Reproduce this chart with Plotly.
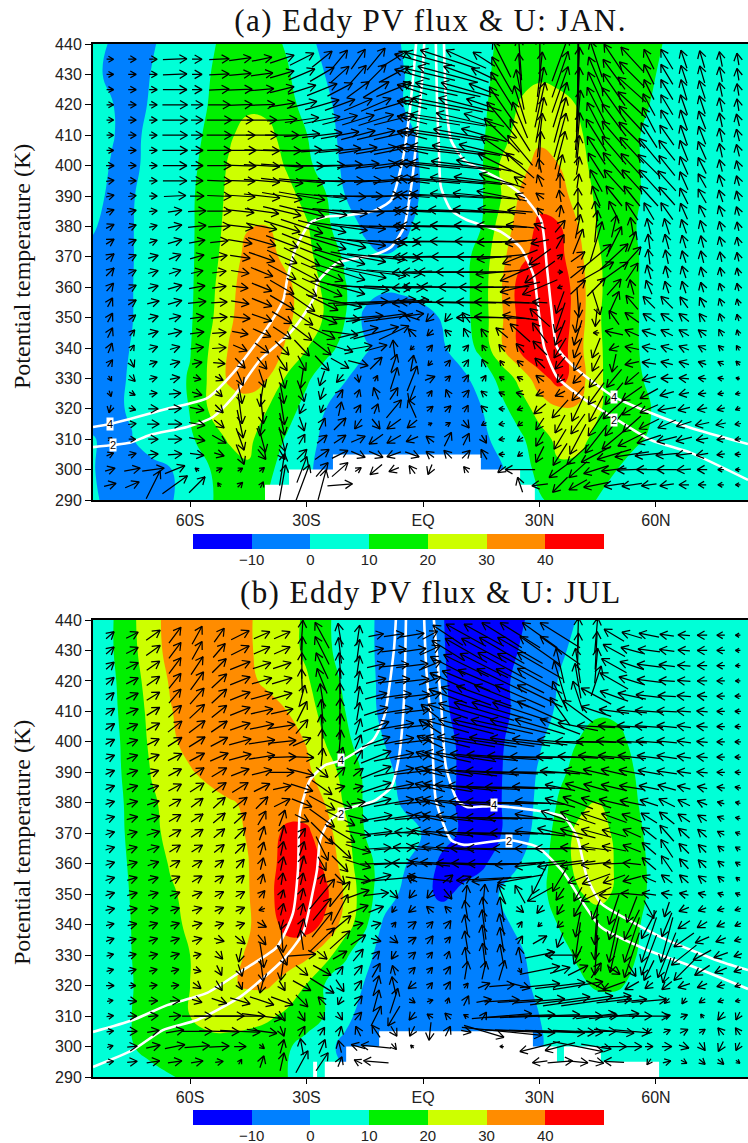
import plotly.graph_objects as go

LAT_Z = [-85,-80,-75,-70,-65,-60,-55,-50,-45,-40,-35,-30,-25,-20,-15,-10,-5,0,5,10,15,20,25,30,35,40,45,50,55,60,65,70,75,80,85]
THETA_Z = [440,430,420,410,400,390,380,370,360,350,340,330,320,310,300,290]

FLUX_A = [
[3,-1,-3,-1,3,6,9,12,14,13,9,3,-3,-5,-5,-3,0.5,3,5,7,9,10.5,12,14,15,15,14,13,12,11,8,6,5,4,4],
[1.5,-1.5,-3,0.2,3.5,6.5,9.8,13,16,15,11,5,-0.3,-4,-5,-3,-0.2,3,5,7,9,11,16,18.5,17,15,14,13,12,10,8,6,5,4,4],
[2,0.2,-2.5,0.7,4,7,10.3,14,18,18,13,7,1.5,-3,-4,-2.5,0,3,5,7,8.5,13,21,24,23,19.5,16.5,14.5,12,9,7,5,4,4,4],
[2,0.2,-1.5,1.5,5,7.5,11.5,18.5,24,22,17,10.3,3,-2.5,-4,-3.5,-1.5,1,4,6,8.5,16,24,28,27,21,17,14,10.5,8,6,5,4,4,4],
[1.5,-0.3,-1.5,2,5.5,8,13,21,25,25,19,12.5,5,-2,-4,-4,-2,0.5,4,6,9,21,27,33,30,22.5,17.5,14,10.5,8,6,5,4,4,4],
[1.5,-1,-0.5,2.5,6,8.5,14.5,22,27,28,23,17,10.5,0,-5,-5,-2,0.5,4,6.5,9,19.5,31,37,34,26,18,14.5,10.5,8,6,5,4,4,4],
[0.4,-1.5,-0.3,2.5,5.5,8.5,15,23,29.5,30,26,21,12,4.5,-1.5,-3,-1,1.5,4,7,10,24,34,42,41,30,19.5,15,10,8,6,5,4,4,4],
[-1,-1.5,-0.3,2.5,5.5,8.5,15.5,25,33,33,27.5,22.5,15.5,8.5,2.5,0.3,1,2,4,6.5,14,27,37.5,44,43,33,21,15.5,10.3,8,6,5,4,4,4],
[-1.5,-1.5,-0.2,2.5,6,8.5,17,27,35,38,32,25,18,10.5,4,1,1.5,2.5,4,6.5,15,29,44,50,47,35,21.5,15.5,10.3,8,6,5,4,4,4],
[-1.5,-1.5,-0.2,2.8,6.2,8.8,18,28,36,38,32,25,19,10,-2,-4,-4,-2,0.5,6,15,28,43,50,47,35,21,15.5,10.3,8,6,5,4,4,4],
[-2,-1.5,0.2,3.3,6.5,9.5,20.5,30.5,37,38,28,20.5,13,7,1,-3,-4,-3,-1,4,13,28,42,50,46,33,21.5,15.5,10.3,8,6,5,4,4,4],
[-2,-1.2,0.5,3.8,7,10.7,21.5,31.5,35,30,18.5,11.5,5,0.5,-3,-5,-6,-6,-4.5,-2,3.5,13,23,36,44,35,21.5,16,11,8,6,5,4,4,4],
[-2,-1.2,0.7,3.8,7,10.3,21,25,25,20,13.5,7,0,-4,-6,-7,-7,-6,-5,-3.5,-0.3,7,15,24,29,29,21,16.5,13,9,6,5,4,4,4],
[0.3,-1.5,-0.3,3,6,8.5,15,21,22,15,9,3,-2,-5,-6,-7,-7,-6,-5,-4,-2,2.5,8,16,22.5,22,18,14,11,8.5,6,5,4,4,4],
[0.2,-1.5,-3,-2,-0.3,4,9.7,15,19,12,6,1,-2,-5,-6,-6,-6,-6,-5,-4,-3,-1,5,13,18.5,18,14,10,7,6,5,5,4,4,4],
[1,-2,-3,-2.5,-0.7,4,9,14,15,9.5,5,1,-2,-4,-5,-5,-5,-5,-5,-4,-3,-1,3,9,13,12,9.8,7,6,5,5,5,4,4,4],
]

FLUX_B = [
[5,9.5,18,27,33,35,36,35,31,26.5,23,18.5,11.5,6,1.5,-1.5,-4.5,-8,-9.7,-13,-14,-13,-11,-7,-3,0.5,2,3,3,3,3,3,3,3,3],
[5,9.5,17.5,26,33,36,36,35,31,27,23,18.5,12,6,1.5,-1.5,-4.5,-7,-9.3,-14,-15,-13.5,-9.6,-5,-1,1.5,2.5,3,3,3,3,3,3,3,3],
[5,8.5,16,24,31,36,37,36,32,28,25,21,15,8,2,-1.5,-4,-6.5,-9,-13,-14,-12,-8,-4,0.3,2,3,3,3,3,3,3,3,3,3],
[5,8,15,22.5,29.5,34,37,38,37,34,30,23.5,17,10,2.5,-1.5,-4,-6.5,-8.8,-12,-14,-12,-8,-2.5,1,4,8.5,8,3,3,3,3,3,3,3],
[5,7,14.5,21.5,28,33.5,37,38.5,38.5,37,34,29.5,19.5,12,6,0,-3,-5.5,-8,-11,-13,-11,-6,-1,4.5,10.3,15,13,7,3,3,3,3,3,3],
[4.5,7,13.5,20.3,25,29,33,36,37,38,36,32,25,16.5,8.5,2,-2,-5,-7.5,-11,-12,-10.5,-5,1,8,13,16.5,14,9.5,4,3,3,3,3,3],
[4.5,6.5,12.5,19,22,24,26,29,31.5,34,36,35,29.5,18.5,9,3.5,-1,-4.5,-8,-11,-12,-10.3,-4.5,2,11,17,20.5,16,10.5,5,3,3,3,3,3],
[4.5,6.5,12,17.5,22.5,24,26,28,30.5,36.5,42,42,34,23,10,6,3,-0.3,-7,-11,-12,-10.3,-4,3.5,14,22.5,24,18,12,6,3,3,3,3,3],
[4,6,11.3,16,20.7,23,25.5,27.5,29.8,36.5,44,46,38,25,13,6.5,1,-5,-12,-14,-12,-5,0,6.5,14,23,24.5,19,13,7,3,3,3,3,3],
[4,6,10.6,15,19,22,24.5,27,29.5,37,46,46,42,28.5,14,5,-2,-7.5,-12,-8,-4,0.7,4,8,13,19,23,18.5,13,7,3,3,3,3,3],
[4,6,10.2,13.7,17,22,25,27.5,29,36,43,44,38,25.5,12,-2,-4,-4,-4,-3.5,-3,-1.5,1.5,6,10.3,13,14.5,14,11,6,3,3,3,3,3],
[4,6,10,13.3,16.7,20,23.5,27,31,35,35,32,24,11.5,3,-4,-5,-5,-5,-4,-4,-3,-1,3,7.5,11,13,13,10,6,3,3,3,3,3],
[4,6,9.7,13,16.5,20,25,29,31,31,26,19.5,8.5,4,-0.5,-5,-6,-6,-6,-5,-4,-3,-1.2,1,5,8.5,11,11,8,5,3,3,3,3,3],
[3,6,10,14,17,20,23,23.5,23,21.5,18,14,9.5,2,-3,-5,-6,-6,-6,-5,-4,-3,-2,0,3,4,5,5,4,4,3,3,3,3,3],
[2.5,5.5,9.5,13,15,16,17,17,16,14,11,7,2,-2,-4,-5,-5,-5,-5,-5,-4,-3,-2,-0.5,2,3,4,4,4,4,3,3,3,3,3],
[3,4,5,7,9.5,11.5,13,14,14,13,10.2,5,3,1,0,0,0,0,0,0,0,0,0,1,2,3,3,3,3,3,3,3,3,3,3],
]

LAT_ARROW = [-80.6,-74.9,-69.5,-63.9,-58.2,-52.5,-47.1,-41.5,-36.3,-31.2,-26,-21.4,-16.7,-12.1,-7.5,-2.8,1.8,6.4,11.1,15.7,20.3,25,30.1,35.3,39.9,44.6,49.2,53.8,58.2,62.8,67.2,71.9,76.7,81.1]
THETA_ARROW = [435,430,425,420,415,410,405,400,395,390,385,380,375,370,365,360,355,350,345,340,335,330,325,320,315,310,305,300,295]

U_A = [
[7,8,8,24,10,20,22,20,24,24,20,15,14,18,26,-35,-50,-55,-40,-22,-18,-3,0,16,0,-12,-20,-22,-10,-12,-6,-5,-3,-2],
[7,8,8,24,10,20,22,22,24,26,24,18,16,20,30,-35,-50,-60,-45,-25,-20,-3,5,16,2,-15,-22,-25,-10,-12,-6,-5,-3,-2],
[7,8,8,24,10,20,24,24,24,28,30,25,22,26,35,-30,-55,-65,-50,-30,-22,-8,8,16,3,-16,-22,-28,-10,-12,-6,-6,-3,-2],
[7,8,8,25,12,22,24,26,26,30,34,30,28,30,40,-30,-60,-70,-55,-35,-25,-12,10,14,3,-18,-24,-28,-12,-12,-7,-6,-3,-2],
[7,8,8,25,12,25,26,30,30,34,36,35,32,35,40,-30,-60,-75,-60,-40,-30,-15,8,12,5,-18,-24,-26,-13,-12,-7,-7,-3,-3],
[7,8,8,25,12,25,30,32,34,36,40,38,34,38,40,-30,-60,-75,-65,-45,-35,-20,5,12,4,-20,-24,-26,-16,-14,-7,-7,-3,-3],
[7,8,8,25,12,24,32,35,38,40,42,42,38,40,40,-32,-60,-75,-68,-50,-42,-25,2,10,3,-18,-24,-24,-20,-16,-8,-8,-3,-3],
[8,8,8,24,12,24,32,36,42,44,45,45,42,40,38,-35,-60,-75,-70,-55,-48,-28,-3,5,3,-16,-22,-22,-22,-16,-8,-8,-3,-3],
[8,8,8,24,12,24,30,36,42,46,46,48,46,44,42,-35,-60,-75,-72,-60,-45,-12,-5,0,2,-12,-20,-20,-20,-18,-8,-8,-4,-3],
[8,8,8,22,14,24,30,36,40,46,50,52,50,48,45,-35,-60,-75,-72,-62,-50,-10,-8,-2,0,-8,-16,-16,-18,-16,-8,-8,-4,-3],
[8,8,8,14,18,24,28,34,38,45,50,55,52,52,48,-38,-60,-75,-75,-62,-48,-25,-6,2,0,-3,-10,-12,-10,-12,-7,-6,-4,-3],
[8,8,8,14,18,22,26,30,36,42,48,55,55,55,50,-38,-60,-70,-72,-60,-50,-28,-12,10,5,3,5,-3,-4,-5,-5,-4,-3,-2],
[8,8,8,14,16,18,24,28,32,40,48,52,55,58,52,-38,-60,-68,-72,-58,-50,-30,-18,8,10,12,15,8,-2,-4,-4,-3,-3,-2],
[8,8,10,12,14,16,20,26,30,36,44,50,55,58,52,-38,-60,-65,-70,-55,-50,-35,-22,5,14,30,28,18,-2,-3,-4,-3,-2,-2],
[8,8,10,12,12,14,18,22,28,34,42,50,56,60,55,-40,-55,-60,-60,-55,-52,-40,-30,5,15,35,28,12,-4,-3,-4,-3,-2,-2],
[7,8,10,14,16,14,16,20,24,30,40,50,62,70,60,-40,-55,-55,-55,-50,-55,-40,-35,-5,15,18,14,-4,-6,-4,-4,-3,-3,-2],
[5,8,12,14,18,16,18,20,24,26,32,44,60,80,70,-40,-60,-60,-60,-55,-55,-35,-15,-8,2,8,10,-12,-12,-12,-8,-5,-3,-2],
[5,7,10,12,14,16,20,20,20,22,30,40,50,60,60,-15,-8,-6,-8,-55,-55,-35,-20,-10,-5,-2,-10,-14,-12,-12,-10,-6,-3,-2],
[5,5,10,14,14,14,16,18,18,20,26,36,40,45,30,-8,-6,-6,-5,-6,-12,-20,-15,-10,-8,-6,-18,-14,-14,-12,-10,-8,-4,-2],
[4,4,9,10,13,14,14,14,14,15,18,26,28,22,-2,-4,5,5,5,-4,-6,-8,-14,-12,-8,-8,-10,-14,-14,-12,-10,-8,-5,-3],
[5,4,8,10,10,12,10,10,10,8,14,18,20,12,6,3,-4,5,5,-4,-4,-6,-10,-10,-8,-8,-4,-14,-14,-12,-10,-8,-6,-4],
[3,6,8,10,8,8,6,6,6,-3,-5,-7,2,3,7,10,10,5,5,4,-5,-6,-8,-6,-10,-14,-15,-14,-14,-12,-10,-8,-6,-4],
[2,6,8,12,10,6,4,-4,4,5,-4,6,3,-5,8,-6,4,-4,6,-6,-6,-8,-8,-10,-12,-16,-18,-20,-18,-14,-10,-8,-6,-5],
[-2,7,10,13,14,8,4,3,5,-5,-3,3,5,4,15,-8,6,6,4,-6,-6,-6,-12,-16,-12,-14,-22,-20,-18,-18,-12,-10,-8,-5],
[3,8,12,14,16,10,6,-4,5,5,6,12,-7,8,-14,-10,4,5,6,-5,-6,-5,-8,-10,-14,-16,-18,-18,-20,-18,-15,-14,-10,-6],
[4,7,10,14,16,14,8,7,6,6,10,12,14,-14,-14,-12,-8,7,6,5,-6,-6,-8,-12,-16,-22,-24,-28,-24,-20,-16,-12,-8,-6],
[7,8,10,14,14,10,8,8,6,10,14,16,14,14,-14,14,-8,-8,8,-6,-6,-5,-8,-14,-22,-30,-34,-34,-28,-22,-16,-12,-8,-6],
[10,16,22,20,-4,6,5,5,5,10,12,16,6,-12,-10,-6,-4,0,-5,0,-8,-30,0,-22,-18,-25,-25,-30,-25,-20,-14,-10,-6,-5],
[12,14,14,25,16,-3,5,3,7,15,8,25,0,0,0,0,0,0,0,0,0,-5,-16,-15,-18,-25,-20,-20,-15,-14,-10,-8,-6,-5],
]
V_A = [
[0,0,0,1,0,1,3,4,8,12,16,18,20,22,16,10,14,18,18,14,36,42,44,44,80,36,30,24,20,20,18,17,15,12],
[0,0,0,1,0,1,2,3,7,11,14,16,18,20,16,10,12,16,16,12,35,42,45,46,90,35,30,25,20,20,18,17,15,12],
[0,0,0,0,0,1,1,2,6,9,12,13,16,16,14,10,12,14,14,12,35,40,45,46,85,35,32,25,20,20,20,18,14,12],
[0,0,0,0,0,0,1,1,4,7,10,11,12,13,12,8,11,14,14,12,36,38,45,45,75,35,34,26,22,20,20,18,14,12],
[0,0,0,0,0,0,0,0,2,5,7,9,10,11,10,8,10,12,14,13,36,36,45,45,60,35,32,28,25,20,20,18,14,12],
[0,0,0,0,0,0,0,0,0,3,5,7,9,9,9,8,9,11,12,13,34,32,44,44,45,32,28,26,25,20,20,18,14,12],
[0,0,0,0,0,0,0,-1,-1,1,3,4,6,7,8,7,7,9,10,12,28,30,38,38,30,28,28,26,24,20,20,18,14,12],
[0,0,0,0,0,0,-1,-2,-3,-1,1,2,4,5,6,6,6,7,9,11,24,25,14,22,18,25,26,24,22,20,18,16,12,10],
[1,0,0,0,0,-1,-1,-3,-5,-4,-2,0,1,3,4,5,5,6,7,8,14,8,12,15,14,22,22,22,22,20,18,14,12,10],
[2,1,0,1,0,-1,-2,-4,-7,-8,-5,-2,0,1,3,3,3,4,5,6,10,4,6,12,16,20,20,20,20,18,16,14,12,10],
[3,2,1,2,1,0,-3,-5,-9,-11,-8,-5,-2,0,1,2,2,2,3,4,5,2,6,12,18,20,20,18,17,17,16,12,11,9],
[4,3,2,3,2,1,-3,-6,-11,-14,-12,-8,-5,-2,0,1,1,1,2,2,2,3,5,12,24,32,22,18,16,16,14,12,10,9],
[5,4,3,4,3,2,-4,-8,-12,-16,-15,-12,-8,-4,-2,0,0,1,1,1,-2,-4,-4,14,25,40,30,20,15,15,13,12,10,9],
[6,4,3,5,4,3,-3,-9,-13,-18,-18,-15,-10,-6,-3,-1,0,0,0,0,-5,-14,-16,5,10,25,26,20,15,14,12,12,10,9],
[8,4,3,4,3,2,-3,-9,-15,-18,-18,-16,-12,-8,-4,-2,0,0,0,-1,-5,-18,-22,0,12,20,20,18,14,12,12,10,9,8],
[8,4,3,4,3,2,-2,-8,-14,-18,-18,-14,-6,-2,-2,-2,1,1,0,0,-1,-10,-15,-2,14,18,16,15,14,12,12,10,8,8],
[9,5,3,4,2,1,-3,-8,-14,-18,-16,-10,2,6,5,-2,1,1,1,1,1,2,1,-22,-30,-25,22,14,12,12,11,10,8,7],
[9,5,3,3,2,1,-2,-7,-12,-15,-12,-4,4,8,8,5,-8,-8,10,0,2,5,18,-30,-30,-18,14,10,8,8,8,8,8,7],
[10,6,3,3,2,1,-3,-8,-12,-15,-12,-5,10,12,14,8,-6,6,9,8,10,18,20,-25,-25,0,4,6,5,6,6,6,7,6],
[10,6,3,3,2,1,-6,-10,-14,-16,-14,-8,5,6,16,-4,6,6,6,6,7,9,14,-20,-20,-20,-4,3,3,4,4,4,5,5],
[7,-8,3,3,2,-1,-10,-12,-15,-15,-15,-10,-5,12,18,16,-5,6,7,8,5,5,10,-12,-15,-16,-18,-3,2,3,3,3,3,4],
[-5,-6,2,2,-2,-4,-14,-18,-20,-20,-15,-8,-8,6,22,25,4,5,7,6,3,3,6,-8,-10,-18,-18,-12,-4,0,1,1,1,1],
[-6,-3,1,1,-3,-6,-20,-26,-20,-16,-12,8,8,12,12,-16,6,8,7,5,3,2,-4,-5,-14,-22,-22,-14,-10,-4,-2,-1,-1,-1],
[-8,-2,0,1,-3,-8,-30,-30,-32,-10,-8,14,8,10,18,18,5,6,7,6,0,-2,-10,-18,-25,-26,-20,-12,-8,-3,-3,-2,-2,-2],
[-4,1,0,0,-3,-8,-28,-24,-22,-14,12,12,-10,-10,-10,-8,2,3,-8,-3,-1,-4,-12,-18,-20,-24,-24,-16,-10,-8,-5,-3,-2,-1],
[3,0,0,0,-3,-8,-22,-26,-24,10,8,8,6,-10,-8,-5,6,14,12,-8,-1,-4,-14,-20,-30,-28,-20,-14,-8,-5,-4,-2,-1,-1],
[3,2,1,1,-2,-3,-20,-10,-10,10,10,8,-6,-6,-5,-5,6,8,8,10,0,-4,-16,-22,-20,-16,-10,-5,-3,-2,-2,-2,-1,0],
[3,3,3,8,3,3,3,4,32,26,14,14,4,-10,-4,8,-10,0,6,0,-6,0,0,-16,-16,-8,-3,-1,0,0,-1,0,0,0],
[3,6,28,18,16,4,5,6,40,40,30,2,0,0,0,0,0,0,0,0,0,15,-2,-15,-10,-5,-3,-3,-2,-2,0,0,0,0],
]

U_B = [
[8,12,14,12,10,10,18,16,16,2,-14,-4,3,15,20,24,15,-30,-40,-40,-40,-40,-35,-40,1,3,-20,-20,-20,-14,-12,-10,-8,-5],
[8,12,14,12,10,12,18,16,16,1,-14,-3,3,15,25,28,20,-32,-42,-45,-45,-45,-40,-40,1,2,-22,-22,-22,-15,-12,-10,-8,-5],
[8,12,13,12,12,14,20,18,18,0,-12,-2,3,18,30,32,22,-35,-45,-48,-48,-45,-45,-8,-5,3,-25,-24,-24,-16,-13,-10,-8,-5],
[8,12,13,12,13,15,20,20,20,-1,-10,-1,3,20,32,34,22,-36,-48,-52,-50,-48,-45,-12,-6,10,-28,-26,-24,-16,-13,-10,-8,-5],
[8,12,13,12,14,15,20,22,20,6,-4,0,3,22,35,35,22,-38,-50,-55,-55,-50,-45,-15,-10,-30,-28,-28,-26,-18,-14,-10,-8,-6],
[9,12,13,13,15,15,20,22,22,10,-2,1,3,24,38,35,-18,-40,-55,-60,-60,-55,-45,-20,-30,-30,-30,-30,-28,-20,-14,-11,-8,-6],
[9,11,13,14,16,16,20,24,26,12,-2,2,5,26,40,35,-22,-42,-55,-62,-62,-60,-50,-40,-40,-38,-32,-30,-28,-20,-14,-11,-8,-6],
[9,11,12,14,16,17,22,26,28,18,0,2,6,28,40,35,-26,-44,-58,-65,-65,-60,-55,-45,-45,-40,-35,-30,-26,-20,-14,-11,-8,-6],
[9,11,12,14,15,18,22,26,28,24,2,6,8,30,40,35,-28,-46,-60,-68,-70,-65,-60,-48,-40,-36,-32,-28,-24,-20,-14,-11,-8,-6],
[9,11,11,13,14,15,18,20,24,24,12,10,10,30,40,36,-30,-48,-62,-70,-72,-70,-60,-40,-28,-26,-26,-26,-22,-20,-14,-11,-8,-6],
[9,11,11,13,14,14,16,16,18,22,20,10,10,30,40,36,-30,-48,-62,-72,-72,-70,-55,-30,-25,-25,-26,-25,-20,-18,-13,-10,-8,-6],
[9,11,12,12,12,12,14,12,16,20,26,24,14,30,40,35,-30,-50,-62,-70,-72,-68,-50,-30,-30,-30,-30,-24,-18,-16,-12,-10,-7,-5],
[9,11,13,12,12,12,12,8,6,14,25,30,20,32,40,35,-32,-50,-60,-68,-72,-65,-50,-38,-35,-30,-25,-20,-16,-15,-12,-9,-7,-5],
[9,10,13,12,12,11,11,5,4,7,22,30,25,32,40,-35,-35,-50,-60,-70,-72,-60,-50,-45,-35,-30,-24,-18,-15,-14,-11,-9,-7,-5],
[9,10,12,11,11,10,10,4,3,5,12,22,25,30,40,-38,-38,-52,-60,-68,-70,-55,-50,-50,-35,-30,-24,-18,-14,-12,-10,-8,-6,-5],
[9,10,11,10,10,9,8,3,3,4,8,16,25,32,40,-40,-40,-55,-60,-65,-68,-50,-50,-45,-35,-30,-22,-18,-14,-11,-9,-8,-6,-5],
[9,10,10,10,10,9,8,3,2,3,4,10,25,30,45,-10,-45,10,10,-55,-60,-45,-15,-15,-20,-28,-22,-18,-14,-11,-9,-8,-6,-4],
[9,10,10,10,10,9,9,6,3,3,25,20,22,25,8,-6,-6,8,2,2,-8,-10,-25,-8,-8,-30,-30,-22,-14,-11,-9,-8,-6,-5],
[9,10,10,9,10,9,9,-6,3,3,18,16,20,15,-4,-7,-7,-6,-3,-3,-4,7,-6,-6,-8,-8,-10,-10,10,-5,-10,-8,-7,-6],
[8,9,9,9,10,9,9,9,-3,4,20,22,10,10,4,8,6,6,-3,-4,-5,4,-4,-6,-5,-3,-10,-15,-15,-10,-12,-10,-8,-6],
[8,8,9,9,10,10,10,8,2,-3,25,20,15,10,8,8,6,5,-3,-4,-4,5,14,-6,-5,-3,-10,-15,-15,-12,-20,-14,-10,-7],
[7,8,9,9,8,7,-3,4,10,28,10,14,10,7,-5,7,5,3,-2,-3,-4,-3,30,-30,-8,-3,-8,-15,-15,-18,-25,-18,-14,-8],
[7,8,8,8,8,5,4,3,-3,12,18,6,8,8,-3,6,5,5,3,4,6,3,40,20,20,10,12,8,-10,-8,-20,-15,-12,-8],
[8,7,8,8,8,6,4,-4,6,18,24,8,7,6,-4,-8,5,5,4,12,25,20,40,50,50,20,-22,-14,-8,-10,-12,-10,-8,-6],
[6,9,9,10,10,15,20,24,22,12,-8,-4,8,6,8,6,6,2,5,15,35,45,50,60,70,70,35,30,35,-5,-4,-6,-6,-5],
[7,9,10,12,30,50,50,40,6,6,5,5,7,10,-12,-6,-6,-6,-5,5,60,70,80,85,80,40,50,40,40,7,7,-3,-6,-4],
[7,10,12,18,30,40,40,30,4,6,5,3,-5,-8,6,-5,-2,5,10,40,80,70,90,70,50,40,40,35,-5,7,8,6,-6,-5],
[6,10,14,20,25,20,12,5,4,-3,6,-3,-14,-30,5,-3,0,0,0,0,-4,0,-40,-30,50,30,25,20,8,10,10,6,-5,-4],
[7,10,13,14,12,8,3,4,4,12,12,4,-8,-25,0,0,0,0,0,0,0,0,-15,25,20,15,-20,0,-4,8,6,6,6,4],
]
V_B = [
[7,6,10,16,18,14,9,7,7,30,26,24,20,3,3,4,8,20,22,22,25,25,25,25,35,35,12,6,4,2,1,0,0,0],
[7,6,10,16,18,14,9,7,7,28,28,26,22,4,3,4,9,20,24,24,26,26,28,28,35,38,12,6,3,2,1,0,0,0],
[7,6,9,16,18,14,8,6,6,26,26,26,20,4,3,4,9,18,22,24,26,24,26,35,35,35,14,8,3,2,1,0,0,0],
[7,6,9,15,18,14,8,6,6,24,25,26,20,5,4,4,8,16,20,22,24,24,25,40,35,30,16,8,3,1,1,0,0,0],
[7,6,8,14,16,14,8,6,6,22,25,26,20,6,5,4,7,14,18,20,22,22,22,30,30,16,10,6,3,1,1,1,0,0],
[6,5,8,12,14,12,8,5,5,20,24,26,18,8,6,4,14,14,16,18,18,18,20,28,22,10,4,3,2,1,1,1,0,0],
[6,5,7,11,12,11,7,5,4,14,24,26,16,10,7,4,14,12,14,14,14,14,15,15,8,2,2,2,2,2,2,1,0,0],
[5,4,6,9,10,9,6,4,3,8,26,24,14,10,8,4,12,11,10,10,9,8,6,4,1,1,2,2,2,2,2,1,0,0],
[4,4,5,7,8,8,6,4,1,-1,18,20,14,12,8,4,10,10,9,7,5,3,1,1,2,3,3,3,3,3,2,1,0,0],
[4,4,4,7,9,9,7,5,0,-6,-10,10,8,12,8,4,8,8,7,5,3,1,1,3,5,6,6,5,4,3,2,1,0,0],
[4,4,4,7,9,10,10,8,4,-7,-14,3,3,10,8,3,8,8,6,4,2,1,2,6,8,7,6,4,4,5,3,2,1,1],
[3,3,4,7,9,11,11,12,8,-8,-14,-10,2,8,7,3,8,7,6,3,2,1,3,9,12,10,7,5,6,8,6,4,2,1],
[3,3,4,7,8,10,11,14,16,-7,-18,-15,-5,6,6,3,7,6,5,2,1,1,8,14,12,10,9,8,10,12,8,6,3,1],
[3,3,4,7,8,9,11,14,16,10,-22,-18,-5,4,4,3,7,5,4,2,1,1,5,10,9,8,7,8,12,16,10,8,4,2],
[3,3,4,7,7,8,10,13,14,14,-24,-20,-8,2,3,3,6,4,3,1,0,0,0,0,3,4,5,7,12,18,10,8,5,3],
[3,3,4,6,6,7,9,12,14,16,-14,-16,-8,1,2,2,5,3,2,1,0,-3,-6,-6,-5,-3,-1,2,12,16,10,8,5,3],
[3,3,3,5,6,6,7,10,12,12,10,-10,-4,8,4,6,5,8,5,-3,-5,-8,-30,-25,-8,-10,-8,-5,6,8,8,6,5,3],
[3,3,3,4,4,5,5,7,9,12,30,25,8,3,-8,-8,-8,-10,18,20,20,18,-14,-12,-14,-14,-2,2,2,2,2,2,2,2],
[2,2,2,3,3,4,4,-2,12,12,22,30,8,6,-6,-6,6,6,18,25,25,-6,-8,-10,-14,-20,-30,-26,-18,-15,-4,-3,-2,-2],
[2,2,3,3,3,3,3,-5,-10,12,25,18,3,3,5,6,6,8,20,30,22,6,-4,-6,-25,-40,-30,-30,-28,-24,-8,-6,-4,-3],
[3,2,3,3,3,-3,-8,-10,-25,20,24,18,10,-3,-6,5,8,6,18,30,25,8,8,-15,-35,-40,-45,-45,-45,-45,-14,-6,-4,-2],
[2,2,2,3,2,-8,-14,-25,-20,2,-8,8,12,8,-8,6,6,8,16,24,22,16,6,0,-18,-40,-35,-45,-40,-45,-20,-10,-5,-3],
[2,2,2,2,-2,-10,-12,-22,-20,-10,-10,8,10,14,10,6,6,8,18,18,20,-5,8,6,10,15,-8,-12,-20,-25,-20,-10,-5,-3],
[0,0,1,1,-6,-10,-8,-15,-10,-10,-15,-12,10,20,18,-6,6,8,5,5,2,-5,4,6,8,-10,-8,-8,-6,-8,-4,-4,-2,-2],
[1,-1,0,0,-3,-5,-6,-8,-8,-12,8,-8,10,22,25,-4,2,6,10,3,2,3,4,8,10,10,4,3,3,-5,-6,-4,-2,-1],
[1,0,1,1,0,0,0,-5,-10,-10,-8,-8,8,20,-20,-8,4,6,3,8,5,3,3,0,1,5,5,0,0,2,3,4,-8,-8],
[1,0,2,3,0,-1,-2,-4,-10,10,8,10,10,12,-10,-10,-18,10,-2,-12,-8,-3,-3,-2,-2,0,-4,-3,-5,3,4,4,7,7],
[2,1,3,4,2,1,0,-4,14,16,14,12,4,3,-6,3,0,0,0,0,0,0,-10,-8,-10,-5,0,0,0,0,-3,-8,-10,-8],
[1,1,2,2,2,1,5,12,18,22,18,10,4,2,0,0,0,0,0,0,0,0,-2,2,-2,-3,1,0,-6,2,-3,-5,-5,-3],
]

U_LINES_A = [
 ([-85,-80.6,-65.9,-55.6,-48.9,-40.2,-36,-35,-33,-29.1,-25.2,-18.8,-12.6,-8.2,-5.4,-3.6,-2.3,-1.8],
  [314,315,320,323.5,331.8,346.6,355.8,362.4,372.2,381.1,383.1,383.8,385.1,388.7,400.9,416,432.4,440]),
 ([-85,-79.8,-75.5,-70.3,-60.8,-54.1,-48.9,-42,-34.3,-29.9,-27.8,-27.3,-22.1,-12.6,-8.2,-4.9,-2.8,-1.5,-0.3,0.3],
  [307.4,308.1,308.8,311.4,314,317.3,323.9,336,344.9,352.5,357.4,361.4,368,370.6,373.2,379.8,395.3,410.7,427.2,440]),
 ([3.3,3.6,4.1,4.6,7.2,11.3,20.1,25.2,28.6,29.4,31.2,34.5,40.7,49.2,58.7,69,83.7],
  [440,421.6,405.1,393,385.4,382.1,378.2,372.9,363.4,355.8,340.3,330.5,323.9,317,309.7,305.5,296.6]),
 ([5.4,5.9,7.2,10.6,20.1,26,30.4,31.9,33,34.5,38.9,49.2,58.7,69,83.7],
  [440,421.6,408.4,401.8,395.3,389.7,382.1,366.6,353.5,340.3,333.8,323.9,318.6,313.7,308.4]),
]
U_LINES_B = [
 ([-85,-74.7,-65.9,-55.6,-46.4,-37.6,-33.5,-32.2,-31.7,-29.1,-25.2,-20.9,-12.9,-10,-7.5,-7],
  [304.8,308.7,313.6,317.6,325.1,332.7,343.8,358,376.7,387.5,392.4,394,400.6,408.2,430.2,440]),
 ([-85,-74.7,-67,-58.2,-47.1,-36.1,-30.9,-28.3,-27.3,-26.5,-24.5,-20.6,-12.6,-8.2,-6.2,-4.9,-4.4],
  [293.3,298.9,305.4,308.7,316.3,328.4,337.3,351.4,358,367.8,373.4,377.6,380.6,385.2,395,413.7,440]),
 ([2.8,4.6,5.9,8.8,11.3,18.3,28.6,36.3,39.7,42.2,45.8,54.3,62.8,76.7,83.7],
  [440,413.7,391.8,380.9,378.6,379,377.6,375.3,368.8,355.7,347.1,340.6,335,327.8,325.1]),
 ([0.3,0.8,2.3,3.3,7.2,10.6,21.6,29.4,36.3,40.7,45.8,57.7,69.8,83.7],
  [440,424.6,402.9,380.9,367.8,366.2,367.8,365.5,357,348.1,339.2,331.7,326.1,318.9]),
]
U_LABELS_A = [("4",-80.6,315),("2",-79.8,308.1),("4",49.2,323.9),("2",49.2,316.3)]
U_LABELS_B = [("4",-21.1,394),("2",-21.1,376.3),("4",18.3,379.3),("2",22.1,367.5)]

GROUND_LAT_A = [-40.7,-34.5,-23.2,14.9,25,28.8]
GROUND_TH_A = [295,300,305,300,295,290]
GROUND_LAT_B = [-28.3,-27.3,-25.3,-19.8,-11.3,28.3,34.5,36.3,45.8,60.8]
GROUND_TH_B = [295,290,295,300,305,300,295,300,295,290]

COLORS = ["#0000ff","#0080ff","#00ffd7","#00f000","#cdff00","#ff8c00","#ff0000"]
CB_MIDS = [-15,-5,5,15,25,35,45]
CB_TICKS = [-10,0,10,20,30,40]
CB_LABELS = ["\u221210","0","10","20","30","40"]
Y_TICKS = list(range(290,450,10))
X_TICKS = [-60,-30,0,30,60]
X_LABELS = ["60S","30S","EQ","30N","60N"]

W, H = 748, 1143
L, R = 93, 748
PANELS = [(44, 500), (620, 1077)]
CBARS = [(534, 549), (1110, 1125)]
LAT0, LAT1 = -85, 83.7
TH0, TH1 = 290, 440
PXLAT = (R - L) / (LAT1 - LAT0)
SANS = "Liberation Sans"
SERIF = "Liberation Serif"

def scale():
    out = []
    for i, c in enumerate(COLORS):
        out += [[i / 7, c], [(i + 1) / 7, c]]
    return out

def arrows(U, V, pxth):
    xs, ys = [], []
    for th, ur, vr in zip(THETA_ARROW, U, V):
        for la, u, v in zip(LAT_ARROW, ur, vr):
            if u == 0 and v == 0:
                continue
            n = (u * u + v * v) ** 0.5
            ex, ey = u / n, v / n
            x1, y1 = la - 0.5 * u / PXLAT, th - 0.5 * v / pxth
            x2, y2 = la + 0.5 * u / PXLAT, th + 0.5 * v / pxth
            hl = min(8.5, 0.85 * n)
            a = (-ex * 0.87 - ey * 0.5) * hl, (-ey * 0.87 + ex * 0.5) * hl
            b = (-ex * 0.87 + ey * 0.5) * hl, (-ey * 0.87 - ex * 0.5) * hl
            xs += [x1, x2, x2 + a[0] / PXLAT, None, x2, x2 + b[0] / PXLAT, None]
            ys += [y1, y2, y2 + a[1] / pxth, None, y2, y2 + b[1] / pxth, None]
    return xs, ys

fig = go.Figure()
annots = []
data = [(FLUX_A, U_A, V_A, U_LINES_A, U_LABELS_A, GROUND_LAT_A, GROUND_TH_A, "(a) Eddy PV flux &amp; U: JAN.", 430, 20, 267),
        (FLUX_B, U_B, V_B, U_LINES_B, U_LABELS_B, GROUND_LAT_B, GROUND_TH_B, "(b) Eddy PV flux &amp; U: JUL", 431, 592, 843)]
for i, (flux, U, V, lines, labels, glat, gth, title, tx, ty, ylab) in enumerate(data):
    xa, ya = ("x", "y") if i == 0 else ("x3", "y3")
    cx, cy = ("x2", "y2") if i == 0 else ("x4", "y4")
    top, bot = PANELS[i]
    pxth = (bot - top) / (TH1 - TH0)
    fig.add_trace(go.Contour(
        x=LAT_Z, y=THETA_Z[::-1], z=flux[::-1], xaxis=xa, yaxis=ya,
        colorscale=scale(), zmin=-20, zmax=50, zauto=False, showscale=False,
        contours=dict(start=-10, end=40, size=10, coloring="fill", showlines=False),
        line=dict(width=0, smoothing=1.3), hoverinfo="skip",
    ))
    fig.add_trace(go.Heatmap(x=CB_MIDS, y=[0], z=[CB_MIDS], xaxis=cx, yaxis=cy, colorscale=scale(),
                             zmin=-20, zmax=50, showscale=False, hoverinfo="skip"))
    fig.add_trace(go.Scatter(x=glat, y=gth, xaxis=xa, yaxis=ya, mode="lines", line=dict(width=0, shape="hv"),
                             fill="tozeroy", fillcolor="white", hoverinfo="skip", showlegend=False))
    for lx, ly in lines:
        fig.add_trace(go.Scatter(x=lx, y=ly, xaxis=xa, yaxis=ya, mode="lines",
                                 line=dict(color="white", width=2.6, shape="spline", smoothing=0.6),
                                 hoverinfo="skip", showlegend=False))
    ax, ay = arrows(U, V, pxth)
    fig.add_trace(go.Scatter(x=ax, y=ay, xaxis=xa, yaxis=ya, mode="lines",
                             line=dict(color="black", width=1.25), hoverinfo="skip", showlegend=False))
    for t, la, th in labels:
        annots.append(dict(text=t, x=la, y=th, xref=xa, yref=ya, showarrow=False, bgcolor="white",
                           font=dict(family=SANS, size=11, color="black"), borderpad=0))
    annots.append(dict(text=title, x=tx / W, y=1 - ty / H, xref="paper", yref="paper", showarrow=False,
                       xanchor="center", yanchor="middle", font=dict(family=SERIF, size=31, color="#111")))
    annots.append(dict(text="Potential temperature (K)", x=22 / W, y=1 - ylab / H,
                       xref="paper", yref="paper", showarrow=False, textangle=-90,
                       xanchor="center", yanchor="middle", font=dict(family=SERIF, size=24, color="#111")))

ax_common = dict(showline=True, linecolor="black", linewidth=2, mirror=True, showgrid=False, zeroline=False,
                 automargin=False, ticks="outside", tickcolor="black", tickwidth=1.2,
                 tickfont=dict(family=SANS, size=16, color="#222"))
names = [("", "2"), ("3", "4")]
for i, (top, bot) in enumerate(PANELS):
    s, c = names[i]
    fig.layout["xaxis" + s] = dict(ax_common, domain=[L / W, 1], range=[LAT0, LAT1], tickmode="array",
                                   tickvals=X_TICKS, ticktext=X_LABELS, ticklen=5, anchor="y" + s)
    fig.layout["yaxis" + s] = dict(ax_common, domain=[1 - bot / H, 1 - top / H], range=[TH0, TH1], tickmode="array",
                                   tickvals=Y_TICKS, ticklen=6, anchor="x" + s)
    ct, cb = CBARS[i]
    fig.layout["xaxis" + c] = dict(domain=[193 / W, 604 / W], range=[-20, 50], tickmode="array", tickvals=CB_TICKS,
                                   ticktext=CB_LABELS, ticks="", showline=False, showgrid=False, zeroline=False,
                                   automargin=False, anchor="y" + c, tickfont=dict(family=SANS, size=15, color="#222"))
    fig.layout["yaxis" + c] = dict(domain=[1 - cb / H, 1 - ct / H], visible=False, automargin=False, anchor="x" + c)

fig.update_layout(width=W, height=H, margin=dict(l=0, r=0, t=0, b=0), paper_bgcolor="white",
                  plot_bgcolor="white", showlegend=False, annotations=annots)
fig.write_html("out.html", config={"displayModeBar": False},
               post_script="document.body.style.margin='0';document.body.style.overflow='hidden';"
                           "document.querySelectorAll('.annotation-text').forEach(function(t){"
                           "if(t.textContent.indexOf('Eddy')>=0){t.style.letterSpacing='1.45px';}});")
